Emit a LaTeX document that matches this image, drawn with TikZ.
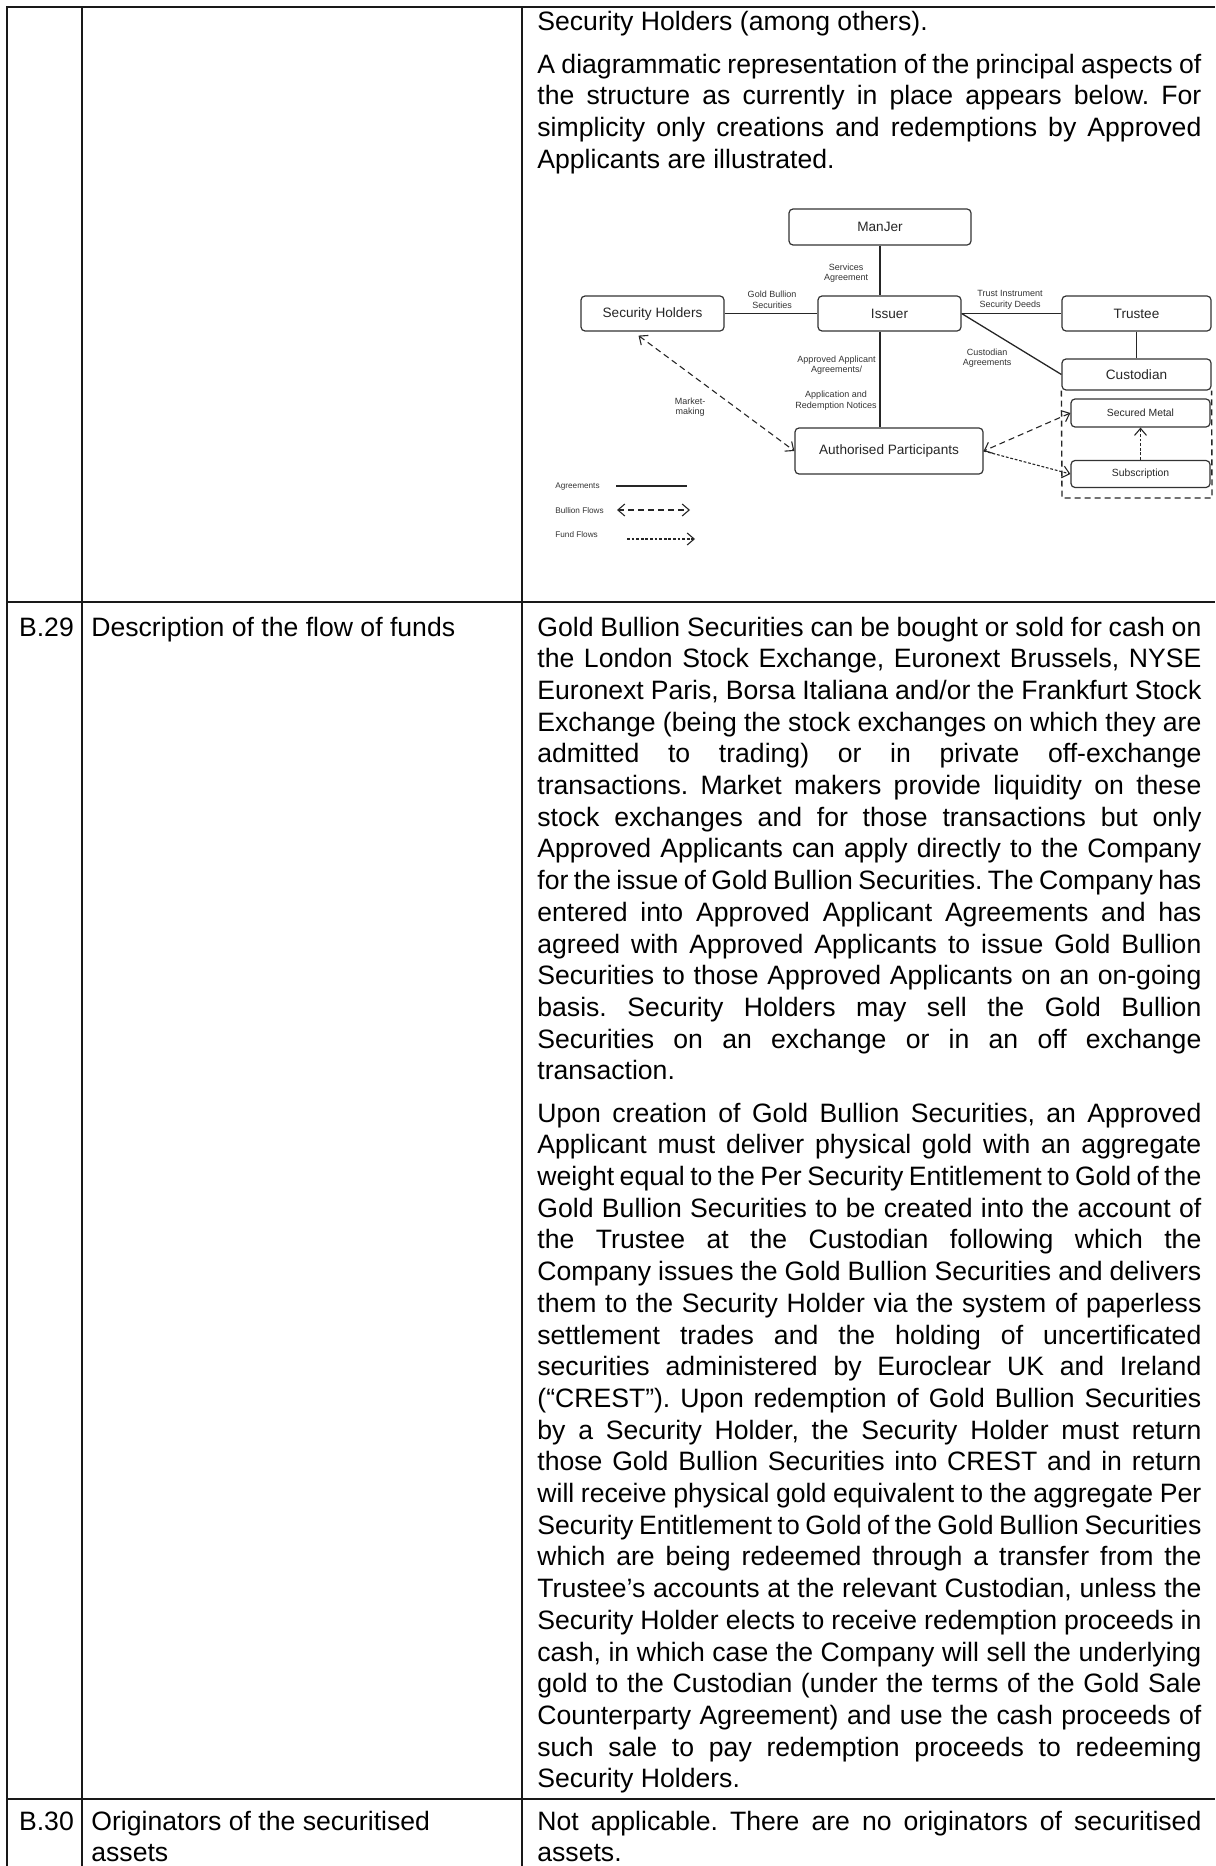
\documentclass[tikz,border=0pt]{standalone}
\usepackage{fontspec}
\setmainfont{Liberation Sans}
\usetikzlibrary{positioning,arrows.meta}

\newcommand\bodyfont{\fontsize{13.3}{15.85}\selectfont\frenchspacing
  \spaceskip=0.278em plus 0.35em minus 0.14em\relax}
\newcommand\jline[1]{\hbox to\hsize{#1}}
\newcommand\pline[1]{\hbox{#1}}
\newcommand\cellgap{\vskip5.3pt}
\newcommand\cellbox[1]{\parbox[t]{332pt}{\bodyfont#1}}

\tikzstyle{tableline} = [line width=1.1pt,draw=black!90]
\tikzstyle{cell} = [anchor=base west,inner sep=0pt,text=black,font=\bodyfont]
\tikzstyle{party} = [draw=black!80,line width=0.6pt,rectangle,rounded corners=2pt,inner sep=0pt,text=black!85,font=\fontsize{6.8}{8}\selectfont]
\tikzstyle{account} = [party,font=\fontsize{5.2}{6}\selectfont]
\tikzstyle{linklabel} = [inner sep=0pt,align=center,text=black!80,font=\fontsize{4.5}{5.3}\selectfont]
\tikzstyle{legendtext} = [anchor=west,inner sep=0pt,text=black!80,font=\fontsize{4.1}{5}\selectfont]
\tikzstyle{agree} = [line width=0.65pt,draw=black!85]
\tikzstyle{bullion} = [{Straight Barb[length=3.5pt,width=6pt]}-{Straight Barb[length=3.5pt,width=6pt]},line width=0.55pt,dash pattern=on 3pt off 2pt,draw=black!85]
\tikzstyle{fund} = [-{Straight Barb[length=3.5pt,width=6pt]},line width=0.55pt,dash pattern=on 1.4pt off 0.9pt,draw=black!85]
\tikzstyle{vault} = [line width=0.7pt,dash pattern=on 3pt off 2pt,draw=black!85]

\begin{document}
\begin{tikzpicture}[x=0.5pt,y=-0.5pt]
  \useasboundingbox (0,0) rectangle (1215,1866);
  % table rules
  \draw[tableline] (7.3,1866) -- (7.3,7.3) -- (1215,7.3);
  \draw[tableline] (82.3,7.3) -- (82.3,1866);
  \draw[tableline] (522,7.3) -- (522,1866);
  \draw[tableline] (7.3,601.7) -- (1215,601.7);
  \draw[tableline] (7.3,1799) -- (1215,1799);

  % first row
  \node[cell] (intro) at (537,31) {\cellbox{%
    \pline{Security Holders (among others).}\cellgap
    \jline{A diagrammatic representation of the principal aspects of}
    \jline{the structure as currently in place appears below. For}
    \jline{simplicity only creations and redemptions by Approved}
    \pline{Applicants are illustrated.}}};

  % diagram
  \node[party,minimum width=91pt,minimum height=18pt] (manjer) at (880,227) {ManJer};
  \node[party,minimum width=71.5pt,minimum height=17.5pt] (issuer) at (889.5,313.5) {Issuer};
  \node[party,minimum width=71.5pt,minimum height=17.5pt] (holders) at (652.5,313.5) {Security Holders};
  \node[party,minimum width=74.5pt,minimum height=17.5pt] (trustee) at (1136.5,313.5) {Trustee};
  \node[party,minimum width=74.5pt,minimum height=15.5pt] (custodian) at (1136.5,374.5) {Custodian};
  \node[account,minimum width=69.5pt,minimum height=14pt] (secured) at (1140.5,413) {Secured Metal};
  \node[account,minimum width=69.5pt,minimum height=13.5pt] (subscr) at (1140.5,474) {Subscription};
  \node[party,minimum width=94pt,minimum height=23pt] (ap) at (889,451) {Authorised Participants};
  \draw[vault] (custodian.south west) -- (1062,498) -- (1212,498) -- (custodian.south east);

  \node[linklabel] (services) at (846,273) {Services\\Agreement};
  \node[linklabel] (goldsec) at (772,300) {Gold Bullion\\Securities};
  \node[linklabel] (deeds) at (1010,300) {Trust Instrument\\Security Deeds};
  \node[linklabel] (custagr) at (987,358) {Custodian\\Agreements};
  \node[linklabel] (aagr) at (836.5,365) {Approved Applicant\\Agreements/};
  \node[linklabel] (notices) at (836,400.5) {Application and\\Redemption Notices};
  \node[linklabel] (making) at (690,407) {Market-\\making};

  \draw[agree] (manjer.south) -- (manjer.south |- issuer.north);
  \draw[agree] (issuer.south -| manjer.south) -- (ap.north -| manjer.south);
  \draw[agree] (holders) -- (issuer);
  \draw[agree] (issuer) -- (trustee);
  \draw[agree] (trustee) -- (custodian);
  \draw[agree] (issuer.east) -- (custodian.west);
  \draw[bullion] ([xshift=-7pt,yshift=-2pt]holders.south) -- (ap.west);
  \draw[bullion] (secured.west) -- (ap.east);
  \draw[fund] (ap.east) -- (subscr.west);
  \draw[fund] (subscr) -- (secured);

  % legend
  \node[legendtext] (lagree) at (555,487) {Agreements};
  \node[legendtext] (lbullion) at (555,511) {Bullion Flows};
  \node[legendtext] (lfund) at (555,535) {Fund Flows};
  \coordinate (la1) at (616,486);
  \coordinate (la2) at (687,486);
  \coordinate (lb1) at (617,510);
  \coordinate (lb2) at (690,510);
  \coordinate (lf1) at (627,539);
  \coordinate (lf2) at (695,539);
  \draw[agree] (la1) -- (la2);
  \draw[bullion] (lb1) -- (lb2);
  \draw[fund] (lf1) -- (lf2);

  % B.29
  \node[cell] (b29) at (18.7,636) {B.29};
  \node[cell] (b29head) at (91,636) {Description of the flow of funds};
  \node[cell] (flows) at (537,636) {\cellbox{%
    \jline{Gold Bullion Securities can be bought or sold for cash on}
    \jline{the London Stock Exchange, Euronext Brussels, NYSE}
    \jline{Euronext Paris, Borsa Italiana and/or the Frankfurt Stock}
    \jline{Exchange (being the stock exchanges on which they are}
    \jline{admitted to trading) or in private off-exchange}
    \jline{transactions. Market makers provide liquidity on these}
    \jline{stock exchanges and for those transactions but only}
    \jline{Approved Applicants can apply directly to the Company}
    \jline{for the issue of Gold Bullion Securities. The Company has}
    \jline{entered into Approved Applicant Agreements and has}
    \jline{agreed with Approved Applicants to issue Gold Bullion}
    \jline{Securities to those Approved Applicants on an on-going}
    \jline{basis. Security Holders may sell the Gold Bullion}
    \jline{Securities on an exchange or in an off exchange}
    \pline{transaction.}\cellgap
    \jline{Upon creation of Gold Bullion Securities, an Approved}
    \jline{Applicant must deliver physical gold with an aggregate}
    \jline{weight equal to the Per Security Entitlement to Gold of the}
    \jline{Gold Bullion Securities to be created into the account of}
    \jline{the Trustee at the Custodian following which the}
    \jline{Company issues the Gold Bullion Securities and delivers}
    \jline{them to the Security Holder via the system of paperless}
    \jline{settlement trades and the holding of uncertificated}
    \jline{securities administered by Euroclear UK and Ireland}
    \jline{(“CREST”). Upon redemption of Gold Bullion Securities}
    \jline{by a Security Holder, the Security Holder must return}
    \jline{those Gold Bullion Securities into CREST and in return}
    \jline{will receive physical gold equivalent to the aggregate Per}
    \jline{Security Entitlement to Gold of the Gold Bullion Securities}
    \jline{which are being redeemed through a transfer from the}
    \jline{Trustee’s accounts at the relevant Custodian, unless the}
    \jline{Security Holder elects to receive redemption proceeds in}
    \jline{cash, in which case the Company will sell the underlying}
    \jline{gold to the Custodian (under the terms of the Gold Sale}
    \jline{Counterparty Agreement) and use the cash proceeds of}
    \jline{such sale to pay redemption proceeds to redeeming}
    \pline{Security Holders.}}};

  % B.30
  \node[cell] (b30) at (18.7,1830) {B.30};
  \node[cell] (b30head) at (91,1830) {\parbox[t]{210pt}{\bodyfont
    \pline{Originators of the securitised}
    \pline{assets}}};
  \node[cell] (b30text) at (537,1830) {\cellbox{%
    \jline{Not applicable. There are no originators of securitised}
    \pline{assets.}}};
\end{tikzpicture}
\end{document}
